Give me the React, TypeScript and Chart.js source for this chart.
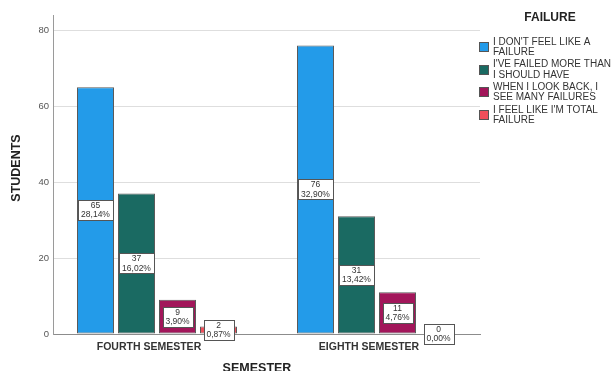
import React, { useEffect, useRef } from 'react';
import { Chart, registerables } from 'chart.js';

Chart.register(...registerables);

// Semesters on the x axis (placed at numeric positions 0 and 1)
const semesters = ['FOURTH SEMESTER', 'EIGHTH SEMESTER'];
const semesterPos = [0, 1];

// Answer options (legend), one line pair each
const answerLines = [
  ["I DON'T FEEL LIKE A", 'FAILURE'],
  ["I'VE FAILED MORE THAN", 'I SHOULD HAVE'],
  ['WHEN I LOOK BACK, I', 'SEE MANY FAILURES'],
  ["I FEEL LIKE I'M TOTAL", 'FAILURE'],
];

// Student counts per semester
const notFailure = [65, 76];
const failedMore = [37, 31];
const lookBack = [9, 11];
const totalFailure = [2, 0];

const yTickValues = [0, 20, 40, 60, 80];

const seriesValues = [notFailure, failedMore, lookBack, totalFailure];
const seriesColors = ['#239be9', '#1a6a62', '#a2165a', '#f04f5b'];

const FONT = '"Liberation Sans", Arial, sans-serif';

const total = seriesValues.reduce((s, arr) => s + arr.reduce((a, b) => a + b, 0), 0);

const pctText = (v: number) => ((v / total) * 100).toFixed(2).replace('.', ',') + '%';

const overlay = {
  id: 'overlay',
  afterDatasetsDraw(chart: any) {
    const ctx = chart.ctx as CanvasRenderingContext2D;
    ctx.save();
    ctx.font = `8.5px ${FONT}`;
    chart.data.datasets.forEach((ds: any, di: number) => {
      const meta = chart.getDatasetMeta(di);
      meta.data.forEach((el: any, i: number) => {
        const v = ds.data[i].y as number;
        const l1 = String(v);
        const l2 = pctText(v);
        const w = Math.round(Math.max(ctx.measureText(l1).width, ctx.measureText(l2).width) + 6);
        const h = 20;
        const cx = el.x;
        const cy = (el.y + el.base) / 2;
        const x0 = Math.round(cx - w / 2) + 0.5;
        const y0 = Math.round(cy - h / 2) + 0.5;
        ctx.fillStyle = '#ffffff';
        ctx.fillRect(x0, y0, w, h);
        ctx.strokeStyle = '#555555';
        ctx.lineWidth = 1;
        ctx.strokeRect(x0, y0, w, h);
        ctx.fillStyle = '#333333';
        ctx.textAlign = 'center';
        ctx.textBaseline = 'middle';
        ctx.fillText(l1, cx, cy - 4.5);
        ctx.fillText(l2, cx, cy + 4.8);
      });
    });
    ctx.restore();
  },
  afterDraw(chart: any) {
    const ctx = chart.ctx as CanvasRenderingContext2D;
    ctx.save();
    // axis titles
    ctx.fillStyle = '#222222';
    ctx.font = `bold 12.5px ${FONT}`;
    ctx.textAlign = 'center';
    ctx.textBaseline = 'middle';
    ctx.fillText('SEMESTER', 257, 369);
    ctx.save();
    ctx.translate(17, 168);
    ctx.rotate(-Math.PI / 2);
    ctx.fillText('STUDENTS', 0, 0);
    ctx.restore();

    // legend
    ctx.font = `bold 12px ${FONT}`;
    ctx.fillStyle = '#222222';
    ctx.fillText('FAILURE', 550, 18);
    ctx.font = `10px ${FONT}`;
    ctx.textAlign = 'left';
    chart.data.datasets.forEach((ds: any, di: number) => {
      const cy = 47 + di * 22.7;
      const sx = 479.5;
      const sy = Math.round(cy - 5) + 0.5;
      ctx.fillStyle = ds.backgroundColor;
      ctx.fillRect(sx, sy, 9, 9);
      ctx.strokeStyle = '#555555';
      ctx.lineWidth = 1;
      ctx.strokeRect(sx, sy, 9, 9);
      ctx.fillStyle = '#333333';
      const lines: string[] = ds.label;
      ctx.fillText(lines[0], 493, cy - 5);
      ctx.fillText(lines[1], 493, cy + 5.3);
    });
    ctx.restore();
  },
};

export default function App() {
  const canvasRef = useRef<HTMLCanvasElement | null>(null);

  useEffect(() => {
    if (!canvasRef.current) return;
    const chart = new Chart(canvasRef.current, {
      type: 'bar',
      data: {
        datasets: seriesValues.map((vals, si) => ({
          label: answerLines[si] as any,
          data: semesterPos.map((x, i) => ({ x, y: vals[i] })),
          backgroundColor: seriesColors[si],
          borderColor: '#5a5a5a',
          borderWidth: 1,
          borderSkipped: false as const,
        })),
      },
      options: {
        animation: false,
        responsive: true,
        maintainAspectRatio: false,
        layout: { padding: { top: 15, right: 131, bottom: 0, left: 0 } },
        datasets: {
          bar: { categoryPercentage: 164 / 220, barPercentage: 37 / 41 },
        },
        plugins: {
          legend: { display: false },
          tooltip: { enabled: false },
        },
        scales: {
          x: {
            type: 'linear',
            min: -104 / 220,
            max: 1 + 103 / 220,
            offset: false,
            afterBuildTicks: (scale: any) => {
              scale.ticks = semesterPos.map((v) => ({ value: v }));
            },
            afterFit: (scale: any) => {
              scale.height = 37;
            },
            grid: { display: false, drawTicks: false, offset: false },
            border: { display: true, color: '#8c8c8c', width: 1 },
            ticks: {
              autoSkip: false,
              maxRotation: 0,
              padding: 7,
              labelOffset: -8,
              color: '#333333',
              font: { family: FONT, size: 10.5, weight: 'bold' },
              callback: (v: any) => semesters[semesterPos.indexOf(Number(v))] ?? '',
            },
          },
          y: {
            min: 0,
            max: 84,
            afterBuildTicks: (scale: any) => {
              scale.ticks = yTickValues.map((v) => ({ value: v }));
            },
            afterFit: (scale: any) => {
              scale.width = 53;
            },
            grid: { color: '#dedede', drawTicks: false },
            border: { display: true, color: '#9a9a9a', width: 1 },
            ticks: {
              padding: 4,
              color: '#555555',
              font: { family: FONT, size: 9.5 },
            },
          },
        },
      },
      plugins: [overlay],
    });
    return () => chart.destroy();
  }, []);

  return (
    <div style={{ position: 'absolute', left: 0, top: 0, width: 611, height: 371, background: '#ffffff' }}>
      <canvas ref={canvasRef} />
    </div>
  );
}
